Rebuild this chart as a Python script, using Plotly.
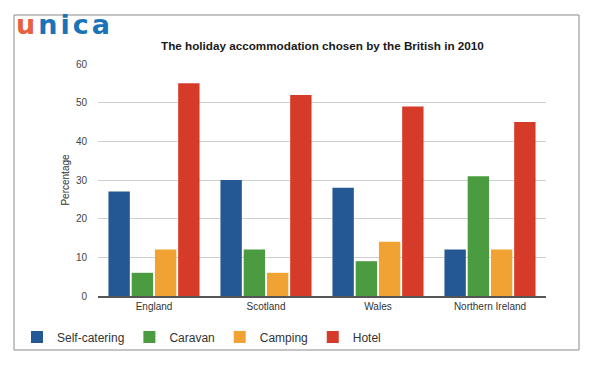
import plotly.graph_objects as go

# ---- data ----
regions = ["England", "Scotland", "Wales", "Northern Ireland"]
self_catering = [27, 30, 28, 12]
caravan = [6, 12, 9, 31]
camping = [12, 6, 14, 12]
hotel = [55, 52, 49, 45]
series_names = ["Self-catering", "Caravan", "Camping", "Hotel"]
y_ticks = [0, 10, 20, 30, 40, 50, 60]

colors = ["#245894", "#4B9B41", "#F0A332", "#D63B2A"]

W, H = 600, 372
OFF = 8  # page body margin shifts the figure by 8px
# target plot area in screen pixels: x 98..546, y 64..296
L = 98 - OFF
T = 64 - OFF
R = W - (546 - OFF)
B = H - (296 - OFF)
pw, ph = W - L - R, H - T - B

def px_x(x):  # screen px -> paper
    return (x - OFF - L) / pw

def px_y(y):
    return (H - B - (y - OFF)) / ph

fig = go.Figure()
for name, vals, col in zip(series_names, [self_catering, caravan, camping, hotel], colors):
    fig.add_trace(go.Bar(x=regions, y=vals, name=name, marker=dict(color=col, line=dict(width=0))))

fig.update_layout(
    width=W, height=H,
    margin=dict(l=L, r=R, t=T, b=B, autoexpand=False),
    paper_bgcolor="white", plot_bgcolor="white",
    barmode="group", bargap=0.17, bargroupgap=0.08,
    font=dict(family="Liberation Sans, Arial, sans-serif", size=10, color="#333"),
    showlegend=True,
    legend=dict(orientation="h", x=px_x(17), xanchor="left", y=px_y(337), yanchor="middle",
                font=dict(size=12, color="#333"), bgcolor="rgba(0,0,0,0)", itemwidth=30),
    xaxis=dict(showgrid=False, showline=True, linecolor="#555", linewidth=1.5,
               ticks="", tickfont=dict(size=10, color="#333")),
    yaxis=dict(range=[0, 60], tickvals=y_ticks, showgrid=True, gridcolor="#cfcfcf", gridwidth=1,
               zeroline=False, showline=False, ticks="", ticklabelstandoff=10,
               tickfont=dict(size=10, color="#444"),
               title=dict(text="Percentage", font=dict(size=10, color="#333"), standoff=4)),
)

# title
fig.add_annotation(text="<b>The holiday accommodation chosen by the British in 2010</b>",
                   xref="paper", yref="paper", x=px_x(322), y=px_y(46), xanchor="center", yanchor="middle",
                   showarrow=False, font=dict(size=11.7, color="#1a1a1a"))

# logo
fig.add_annotation(text='<b><span style="color:#E8603F;letter-spacing:3px">u</span>'
                        '<span style="color:#1A73B8;letter-spacing:3px">nica</span></b>',
                   xref="paper", yref="paper", x=px_x(14), y=px_y(25), xanchor="left", yanchor="middle",
                   showarrow=False, font=dict(size=27, family="DejaVu Sans"))

# border frame
fig.add_shape(type="rect", xref="paper", yref="paper",
              x0=px_x(14), x1=px_x(579), y0=px_y(350), y1=px_y(15),
              line=dict(color="#8a8a8a", width=1), layer="below")

fig.write_html("out.html")
